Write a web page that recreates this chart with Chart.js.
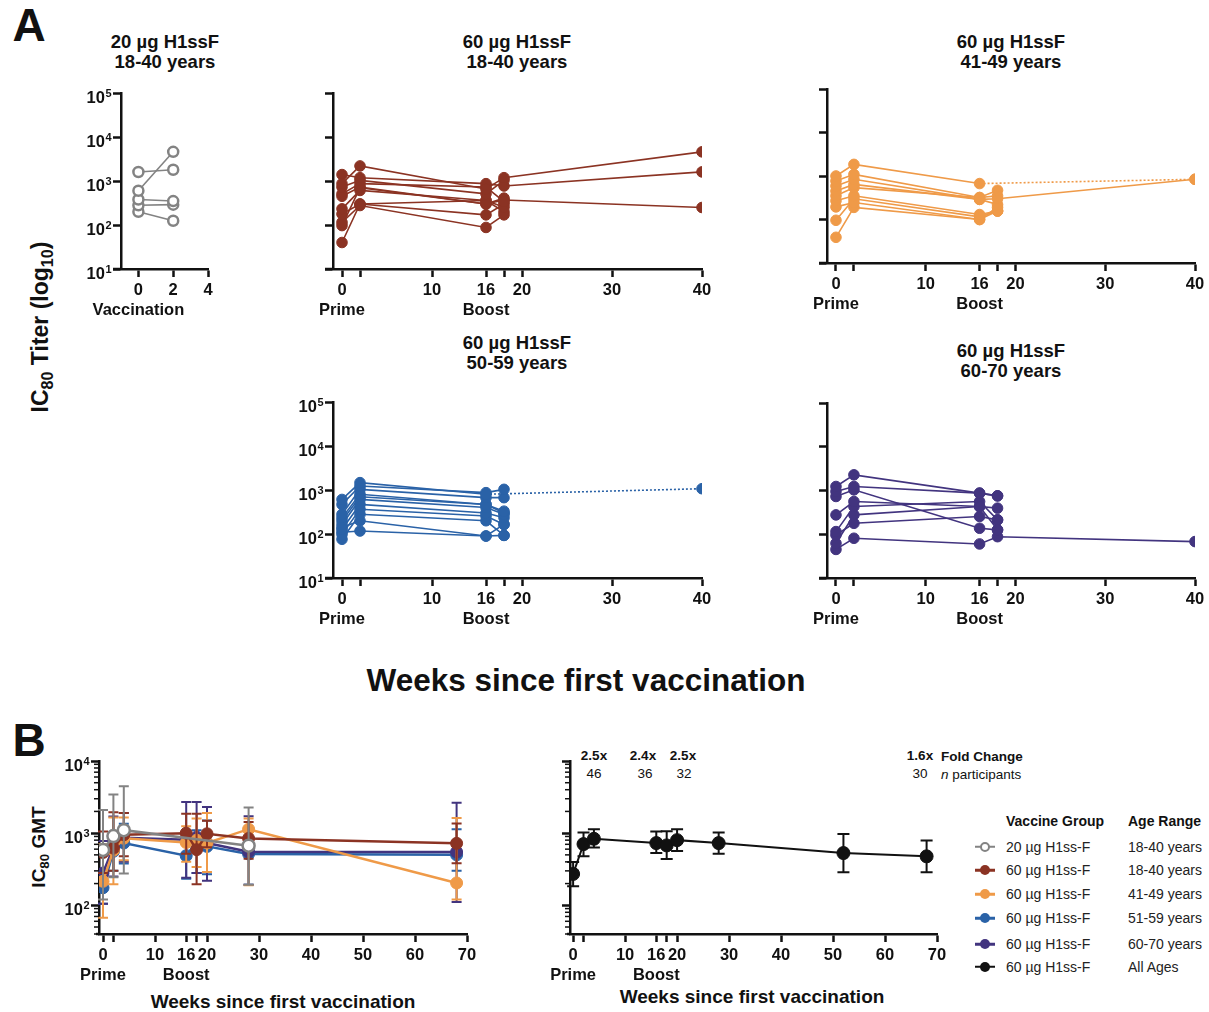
<!DOCTYPE html>
<html>
<head>
<meta charset="utf-8">
<script src="https://cdn.jsdelivr.net/npm/chart.js@4"></script>
<style>
body{margin:0;background:#fff;width:1209px;height:1012px;position:relative;overflow:hidden;font-family:'Liberation Sans',Arial,sans-serif;color:#111}
canvas{position:absolute}
.t{position:absolute;transform:translate(-50%,-50%);white-space:nowrap;font-weight:bold;text-align:center;line-height:1.1}
.l{position:absolute;transform:translateY(-50%);white-space:nowrap}
.r{position:absolute;transform:translate(-50%,-50%) rotate(-90deg);white-space:nowrap;font-weight:bold}
.r sub{font-size:70%;vertical-align:-0.25em}
.ico{position:absolute;width:20px;height:2.5px;transform:translateY(-50%)}
.dot{position:absolute;width:10px;height:10px;border-radius:50%;box-sizing:border-box;transform:translate(-50%,-50%)}
</style>
</head>
<body>
<div class="t" style="left:29px;top:25px;font-size:46px">A</div>
<div class="t" style="left:29px;top:740px;font-size:46px">B</div>

<div class="t" style="left:165px;top:52px;font-size:18.5px">20 µg H1ssF<br>18-40 years</div>
<div class="t" style="left:517px;top:52px;font-size:18.5px">60 µg H1ssF<br>18-40 years</div>
<div class="t" style="left:1011px;top:52px;font-size:18.5px">60 µg H1ssF<br>41-49 years</div>
<div class="t" style="left:517px;top:353px;font-size:18.5px">60 µg H1ssF<br>50-59 years</div>
<div class="t" style="left:1011px;top:361px;font-size:18.5px">60 µg H1ssF<br>60-70 years</div>

<div class="r" style="left:42px;top:327px;font-size:23px">IC<sub>80</sub> Titer (log<sub>10</sub>)</div>
<div class="t" style="left:586px;top:680px;font-size:31.5px">Weeks since first vaccination</div>

<div class="r" style="left:40px;top:847px;font-size:19px">IC<sub>80</sub> GMT</div>
<div class="t" style="left:283px;top:1002px;font-size:19px">Weeks since first vaccination</div>
<div class="t" style="left:752px;top:997px;font-size:19px">Weeks since first vaccination</div>

<div class="t" style="left:594px;top:756px;font-size:13.5px">2.5x</div>
<div class="t" style="left:594px;top:774px;font-size:13.5px;font-weight:normal">46</div>
<div class="t" style="left:643px;top:756px;font-size:13.5px">2.4x</div>
<div class="t" style="left:645px;top:774px;font-size:13.5px;font-weight:normal">36</div>
<div class="t" style="left:683px;top:756px;font-size:13.5px">2.5x</div>
<div class="t" style="left:684px;top:774px;font-size:13.5px;font-weight:normal">32</div>
<div class="t" style="left:920px;top:756px;font-size:13.5px">1.6x</div>
<div class="t" style="left:920px;top:774px;font-size:13.5px;font-weight:normal">30</div>
<div class="l" style="left:941px;top:756px;font-size:13.5px;font-weight:bold">Fold Change</div>
<div class="l" style="left:941px;top:774px;font-size:13.5px"><i>n</i> participants</div>

<div id="legend"></div>

<canvas id="a1" width="170" height="250" style="left:60px;top:80px"></canvas>
<canvas id="a2" width="450" height="250" style="left:270px;top:80px"></canvas>
<canvas id="a3" width="444" height="248" style="left:765px;top:76px"></canvas>
<canvas id="a4" width="450" height="250" style="left:270px;top:389px"></canvas>
<canvas id="a5" width="444" height="249" style="left:765px;top:390px"></canvas>
<canvas id="b1" width="455" height="232" style="left:30px;top:748px"></canvas>
<canvas id="b2" width="445" height="232" style="left:510px;top:748px"></canvas>

<script>
// ---- panel A: individual titers, weeks [0, 2] for 20 ug, [0, 2, 16, 18, 40] for 60 ug
const weeks20 = [0, 2]
const weeks60 = [0, 2, 16, 18, 40]

const titers20 = [
    [1600, 1800],
    [600, 4600],
    [380, 350],
    [280, 290],
    [200, 125]
]
const titers18_40 = [
    [870, 2200, 660, 1190, 4600],
    [1400, 1190, 870, 770, 1610],
    [730, 1035, 510, 1035, null],
    [510, 870, 730, 340, null],
    [450, 730, 300, 370, 250],
    [233, 610, 360, 254, null],
    [178, 300, 170, 300, null],
    [115, 277, 88, 170, null],
    [97, 700, 300, 408, null],
    [40, 300, 360, 200, null]
]
const titers41_49 = [
    [1000, 1850, 670, null, 840],
    [770, 1090, 320, 470, null],
    [590, 840, 290, 300, 840],
    [450, 640, 290, 220, null],
    [350, 540, 320, 350, null],
    [270, 350, 130, 157, null],
    [195, 245, 100, 190, null],
    [96, 300, 115, 157, null],
    [39, 190, 100, 157, null]
]
const titers50_59 = [
    [610, 1470, 800, null, 1070],
    [470, 1230, 870, 1035, null],
    [280, 1035, 670, 670, null],
    [235, 800, 470, 330, null],
    [165, 610, 400, 280, null],
    [128, 470, 300, 235, null],
    [98, 365, 256, 165, null],
    [76, 280, 200, 93, null],
    [140, 200, 90, 93, null],
    [110, 117, 90, 165, null],
    [200, 700, 470, 300, null]
]
const titers60_70 = [
    [1235, 2280, 870, 755, null],
    [950, 1235, 870, 755, null],
    [730, 1035, 137, 126, null],
    [277, 560, 430, 395, null],
    [115, 430, 560, 213, null],
    [96, 178, 255, 213, null],
    [62, 277, 430, 126, null],
    [45, 81, 60, 88, 68]
]

// ---- panel B: geometric mean titers with error bars
const weeksB = [0, 2, 4, 16, 18, 20, 28, 68]
const weeksB20 = [0, 2, 4, 28]
const weeksAll = [0, 2, 4, 16, 18, 20, 28, 52, 68]

const gmt20 = [585, 910, 1100, 670]
const lo20 = [120, 245, 275, 193]
const hi20 = [2100, 3440, 4450, 2260]

const gmt18_40 = [540, 620, 950, 1000, 590, 980, 845, 722]
const lo18_40 = [280, 300, 480, 520, 195, 640, 440, 383]
const hi18_40 = [1050, 1950, 1900, 1850, 1850, 1480, 1430, 1360]

const gmt41_49 = [215, 580, 850, 740, 800, 730, 1135, 204]
const lo41_49 = [67, 195, 420, 400, 340, 290, 190, 120]
const hi41_49 = [700, 1650, 1650, 1250, 1600, 1900, 1600, 1620]

const gmt51_59 = [175, 560, 730, 487, 760, 655, 515, 500]
const lo51_59 = [105, 300, 380, 233, 280, 270, 193, 300]
const hi51_59 = [290, 1000, 1350, 1050, 1100, 1500, 1100, 1135]

const gmt60_70 = [280, 640, 860, 810, 880, 730, 553, 548]
const lo60_70 = [105, 250, 400, 240, 280, 218, 193, 111]
const hi60_70 = [780, 1700, 1900, 2700, 2700, 2300, 1710, 2640]

const gmtAll = [272, 705, 835, 728, 676, 800, 728, 530, 477]
const loAll = [184, 477, 634, 530, 438, 565, 519, 287, 287]
const hiAll = [398, 1020, 1135, 1055, 1065, 1135, 1020, 970, 792]

const legendRows = [
    ['20 µg H1ss-F', '18-40 years'],
    ['60 µg H1ss-F', '18-40 years'],
    ['60 µg H1ss-F', '41-49 years'],
    ['60 µg H1ss-F', '51-59 years'],
    ['60 µg H1ss-F', '60-70 years'],
    ['60 µg H1ss-F', 'All Ages']
]

const GRAY = '#838383', RED = '#8B3323', ORANGE = '#EF9A48', BLUE = '#2A62A7', PURPLE = '#42347F', BLACK = '#111'
const legendColors = [GRAY, RED, ORANGE, BLUE, PURPLE, BLACK]

const FONT = "'Liberation Sans', Arial, sans-serif"
Chart.defaults.font.family = FONT
Chart.defaults.color = '#111'

// error bars drawn right before each dataset
const errorBars = {
    id: 'errorBars',
    beforeDatasetDraw(chart, args) {
        const ds = chart.data.datasets[args.index]
        if (!ds.errLo) return
        const xs = chart.scales.x, ys = chart.scales.y, ctx = chart.ctx
        ctx.save()
        ctx.strokeStyle = ds.borderColor
        ctx.lineWidth = 2
        ds.data.forEach((p, i) => {
            const px = xs.getPixelForValue(p.x)
            const yl = ys.getPixelForValue(ds.errLo[i])
            const yh = ys.getPixelForValue(ds.errHi[i])
            ctx.beginPath()
            ctx.moveTo(px, yl); ctx.lineTo(px, yh)
            ctx.moveTo(px - ds.cap, yl); ctx.lineTo(px + ds.cap, yl)
            ctx.moveTo(px - ds.cap, yh); ctx.lineTo(px + ds.cap, yh)
            ctx.stroke()
        })
        ctx.restore()
    }
}

// short log minor ticks on the y axis, plus the x axis stub left of the y axis
const minorTicks = {
    id: 'minorTicks',
    afterDraw(chart, args, opts) {
        const ys = chart.scales.y, ctx = chart.ctx, x0 = chart.chartArea.left
        ctx.save()
        ctx.strokeStyle = '#111'
        if (opts.stub) {
            ctx.lineWidth = 2.5
            ctx.beginPath(); ctx.moveTo(x0 - opts.stub, chart.chartArea.bottom); ctx.lineTo(x0, chart.chartArea.bottom); ctx.stroke()
        }
        ctx.lineWidth = 1.5
        for (const v of (opts.values || [])) {
            const py = ys.getPixelForValue(v)
            ctx.beginPath(); ctx.moveTo(x0 - 5, py); ctx.lineTo(x0, py); ctx.stroke()
        }
        ctx.restore()
    }
}

// "10" with a raised exponent for the log y ticks
const supLabels = {
    id: 'supLabels',
    afterDraw(chart, args, opts) {
        if (!opts.on) return
        const ys = chart.scales.y, ctx = chart.ctx, xr = chart.chartArea.left - 9.5
        ctx.save()
        ctx.fillStyle = '#111'
        ctx.textBaseline = 'alphabetic'
        ctx.textAlign = 'left'
        for (const t of ys.ticks) {
            const py = ys.getPixelForValue(t.value)
            const e = String(Math.round(Math.log10(t.value)))
            ctx.font = `bold 11px ${FONT}`
            const ws = ctx.measureText(e).width
            ctx.fillText(e, xr - ws, py + 3.5)
            ctx.font = `bold 16.5px ${FONT}`
            const wb = ctx.measureText('10').width
            ctx.fillText('10', xr - ws - wb - 0.5, py + 10)
        }
        ctx.restore()
    }
}

function axisStyle() {
    return {
        grid: { drawOnChartArea: false, drawTicks: true, tickLength: 8, tickWidth: 2.5, tickColor: '#111' },
        border: { color: '#111', width: 2.5 }
    }
}

function makeChart(id, datasets, o) {
    return new Chart(document.getElementById(id), {
        type: 'line',
        data: { datasets: datasets },
        plugins: [errorBars, minorTicks, supLabels],
        options: {
            responsive: false,
            animation: false,
            events: [],
            layout: { padding: { top: o.top, right: o.right, left: 0, bottom: 0 } },
            plugins: {
                legend: { display: false }, tooltip: { enabled: false },
                minorTicks: { values: o.minor || [], stub: o.stub || 0 }, supLabels: { on: o.ylabels }
            },
            scales: {
                x: {
                    type: 'linear', min: o.xmin, max: o.xmax, ...axisStyle(),
                    afterBuildTicks: s => { s.ticks = o.xticks.map(v => ({ value: v })) },
                    afterFit: s => { s.height = o.xh },
                    ticks: { autoSkip: false, maxRotation: 0, padding: 3, color: '#111',
                        font: { size: o.xfs, weight: 'bold', lineHeight: 1.22 }, callback: v => o.xlab(v) }
                },
                y: {
                    type: 'logarithmic', min: o.ymin, max: o.ymax, ...axisStyle(),
                    afterBuildTicks: s => { s.ticks = o.yticks.map(v => ({ value: v })) },
                    afterFit: s => { s.width = o.yw },
                    ticks: { padding: 3, callback: () => '' }
                }
            }
        }
    })
}

function participantLines(rows, weeks, color, open) {
    return rows.map(r => ({
        data: weeks.map((w, i) => ({ x: w, y: r[i] })),
        borderColor: color,
        borderWidth: 1.6,
        pointRadius: open ? 5 : 5.3,
        pointBackgroundColor: open ? '#fff' : color,
        pointBorderColor: color,
        pointBorderWidth: open ? 2.5 : 1,
        spanGaps: true,
        // dotted where the line bridges a missed visit
        segment: { borderDash: c => (r[c.p0DataIndex] === null ? [2, 2] : undefined) }
    }))
}

function gmtLine(weeks, gmt, lo, hi, color, open, cap) {
    return {
        data: weeks.map((w, i) => ({ x: w, y: gmt[i] })),
        errLo: lo, errHi: hi, cap: cap,
        borderColor: color,
        borderWidth: 2.5,
        pointRadius: 6,
        pointBackgroundColor: open ? '#fff' : color,
        pointBorderColor: color,
        pointBorderWidth: open ? 2.5 : 1
    }
}

const labA = v => v === 0 ? ['0', 'Prime'] : v === 16 ? ['16', 'Boost'] : (v === 2 || v === 18) ? '' : String(v)
const decA = [10, 100, 1000, 10000, 100000]
const ticksA = [0, 2, 10, 16, 18, 20, 30, 40]

makeChart('a1', participantLines(titers20, weeks20, GRAY, true), {
    top: 13, right: 22, yw: 61, xh: 61, xmin: -1, xmax: 4, xticks: [0, 2, 4], xfs: 16.5,
    xlab: v => v === 0 ? ['0', 'Vaccination'] : String(v),
    ymin: 10, ymax: 100000, yticks: decA, ylabels: true, stub: 8
})
makeChart('a2', participantLines(titers18_40, weeks60, RED, false), {
    top: 13, right: 18, yw: 63, xh: 61, xmin: -1, xmax: 40, xticks: ticksA, xfs: 16.5, xlab: labA,
    ymin: 10, ymax: 100000, yticks: decA, ylabels: false, stub: 8
})
makeChart('a3', participantLines(titers41_49, weeks60, ORANGE, false), {
    top: 13, right: 14, yw: 62, xh: 61, xmin: -1, xmax: 40, xticks: ticksA, xfs: 16.5, xlab: labA,
    ymin: 10, ymax: 100000, yticks: decA, ylabels: false, stub: 8
})
makeChart('a4', participantLines(titers50_59, weeks60, BLUE, false), {
    top: 13, right: 18, yw: 63, xh: 61, xmin: -1, xmax: 40, xticks: ticksA, xfs: 16.5, xlab: labA,
    ymin: 10, ymax: 100000, yticks: decA, ylabels: true, stub: 8
})
makeChart('a5', participantLines(titers60_70, weeks60, PURPLE, false), {
    top: 13, right: 14, yw: 62, xh: 61, xmin: -1, xmax: 40, xticks: ticksA, xfs: 16.5, xlab: labA,
    ymin: 10, ymax: 100000, yticks: decA, ylabels: false, stub: 8
})

const ticksB = [0, 2, 10, 16, 18, 20, 30, 40, 50, 60, 70]
const minorB = [40, 50, 60, 70, 80, 90, 200, 300, 400, 500, 600, 700, 800, 900,
    2000, 3000, 4000, 5000, 6000, 7000, 8000, 9000]

makeChart('b1', [
    gmtLine(weeksB20, gmt20, lo20, hi20, GRAY, true, 5),
    gmtLine(weeksB, gmt18_40, lo18_40, hi18_40, RED, false, 5),
    gmtLine(weeksB, gmt41_49, lo41_49, hi41_49, ORANGE, false, 5),
    gmtLine(weeksB, gmt60_70, lo60_70, hi60_70, PURPLE, false, 5),
    gmtLine(weeksB, gmt51_59, lo51_59, hi51_59, BLUE, false, 5)
], {
    top: 13, right: 18, yw: 69, xh: 46, xmin: -0.77, xmax: 70, xticks: ticksB, xfs: 16.5, xlab: labA,
    ymin: 40, ymax: 10000, yticks: [100, 1000, 10000], ylabels: true, minor: minorB, stub: 3
})

const blackAll = gmtLine(weeksAll, gmtAll, loAll, hiAll, BLACK, false, 6)
blackAll.borderWidth = 2
blackAll.pointRadius = 6.5
makeChart('b2', [blackAll], {
    top: 13, right: 18, yw: 60, xh: 46, xmin: -0.6, xmax: 70, xticks: ticksB, xfs: 16.5, xlab: labA,
    ymin: 40, ymax: 10000, yticks: [100, 1000, 10000], ylabels: false, minor: minorB, stub: 3
})

// legend for panel B
const rowY = [846.7, 870, 894.3, 918.3, 944, 966.7]
let html = '<div class="l" style="left:1006px;top:821px;font-size:14px;font-weight:bold">Vaccine Group</div>' +
    '<div class="l" style="left:1128px;top:821px;font-size:14px;font-weight:bold">Age Range</div>'
legendRows.forEach((r, i) => {
    const c = legendColors[i], open = i === 0
    html += `<div class="ico" style="left:975px;top:${rowY[i]}px;background:${c}"></div>`
    html += `<div class="dot" style="left:985px;top:${rowY[i]}px;background:${open ? '#fff' : c};border:${open ? '2.5px' : '0'} solid ${c}"></div>`
    html += `<div class="l" style="left:1006px;top:${rowY[i]}px;font-size:14px;color:#222">${r[0]}</div>`
    html += `<div class="l" style="left:1128px;top:${rowY[i]}px;font-size:14px;color:#222">${r[1]}</div>`
})
document.getElementById('legend').innerHTML = html
</script>
</body>
</html>
